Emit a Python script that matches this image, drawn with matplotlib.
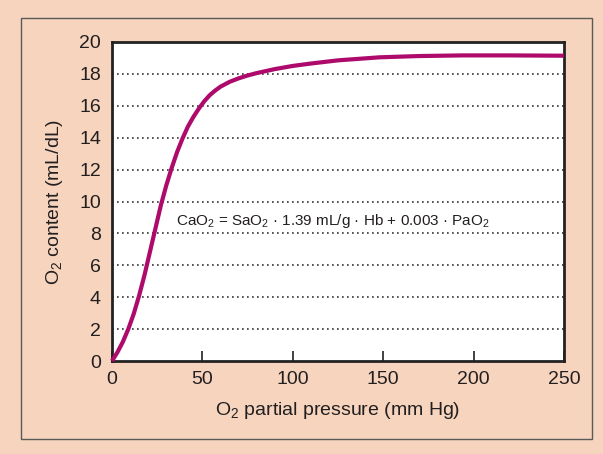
import matplotlib
matplotlib.use("Agg")
import matplotlib.pyplot as plt
from matplotlib.patches import Rectangle

# Datos
pao2 = [0, 3, 6, 9, 12, 15, 18, 21, 24, 27, 30, 33, 36, 39, 42, 45, 48, 51, 54,
        57, 60, 65, 70, 75, 80, 90, 100, 110, 125, 148, 170, 194, 220, 250]
content = [0, 0.55, 1.2, 2.0, 2.95, 4.1, 5.4, 6.85, 8.3, 9.75, 11.0, 12.1, 13.1,
           13.95, 14.7, 15.3, 15.82, 16.28, 16.66, 16.95, 17.2, 17.5, 17.72,
           17.9, 18.05, 18.3, 18.5, 18.65, 18.85, 19.04, 19.12, 19.16, 19.16, 19.14]

x_ticks = [0, 50, 100, 150, 200, 250]
y_ticks = list(range(0, 21, 2))

peach = '#f6d4be'
curve_color = '#ad0a6c'
text_color = '#231f20'

plt.rcParams['font.family'] = ['Liberation Sans', 'DejaVu Sans']
plt.rcParams['mathtext.fontset'] = 'custom'
plt.rcParams['mathtext.rm'] = 'Liberation Sans'
plt.rcParams['mathtext.it'] = 'Liberation Sans:italic'
plt.rcParams['mathtext.default'] = 'regular'

fig = plt.figure(figsize=(6.03, 4.54), dpi=100, facecolor=peach)
fig.patches.append(Rectangle((21 / 603, 1 - 439 / 454), 571 / 603, 421 / 454,
                             transform=fig.transFigure, fill=False,
                             edgecolor='#5a5a5a', linewidth=1.0))

ax = fig.add_axes([112 / 603, 1 - 361 / 454, 452 / 603, 319 / 454])
ax.set_facecolor('white')

# Lineas punteadas horizontales
for y in y_ticks[1:-1]:
    ax.axhline(y, color='#333333', linewidth=1.2, linestyle=(0, (1, 2)), zorder=1)

ax.plot(pao2, content, color=curve_color, linewidth=3.0, zorder=3,
        solid_capstyle='butt', solid_joinstyle='round', clip_on=False)

ax.set_xlim(0, 250)
ax.set_ylim(0, 20)
ax.set_xticks(x_ticks)
ax.set_yticks(y_ticks)
ax.tick_params(axis='x', direction='in', length=7, width=1.3, color='#333333',
               labelsize=14, labelcolor=text_color, pad=7)
ax.tick_params(axis='y', length=0, labelsize=14, labelcolor=text_color, pad=8)

for s in ax.spines.values():
    s.set_linewidth(2)
    s.set_color('#222222')

ax.set_xlabel('O$_2$ partial pressure (mm Hg)', fontsize=14, color=text_color, labelpad=9)
ax.set_ylabel('O$_2$ content (mL/dL)', fontsize=14, color=text_color, labelpad=10)

ax.text(35.4, 8.75, 'CaO$_2$ = SaO$_2$ · 1.39 mL/g · Hb + 0.003 · PaO$_2$',
        fontsize=11, color=text_color, va='center', ha='left', zorder=4)

fig.savefig('out.png', dpi=100, facecolor=peach)
